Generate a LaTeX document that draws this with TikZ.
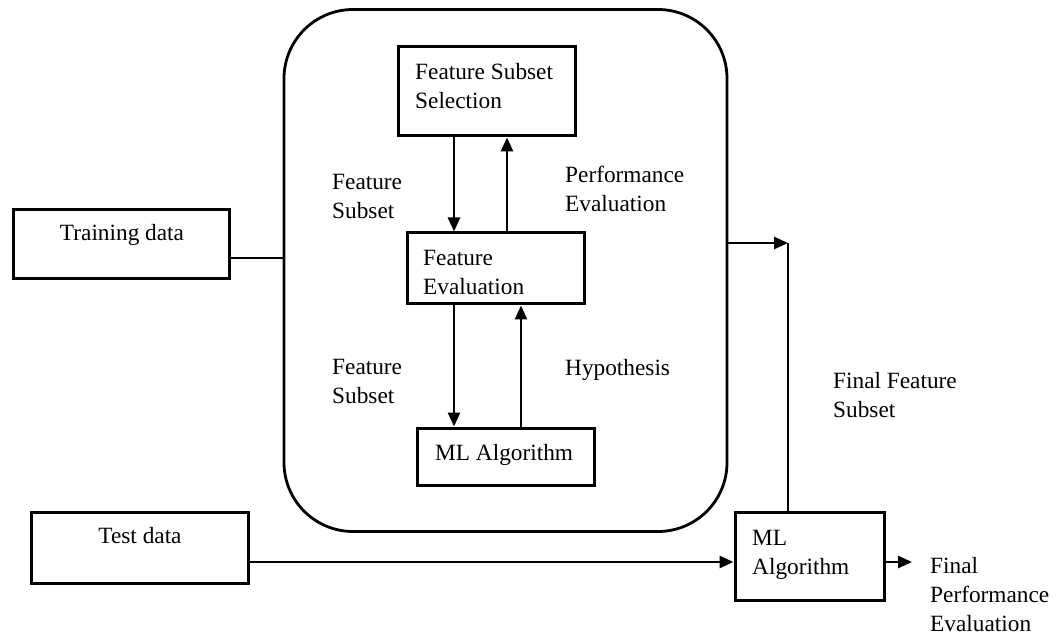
\documentclass[tikz,border=0pt]{standalone}
\usepackage{fontspec}
\setmainfont{Liberation Serif}
\usetikzlibrary{arrows.meta}
\begin{document}
\begin{tikzpicture}[x=1pt,y=-1pt,
  box/.style={draw,line width=3pt,rectangle,inner sep=0pt},
  txt/.style={inner sep=0pt,align=left,font=\fontsize{23.3}{29}\selectfont},
  line/.style={line width=2.8pt},
  arr/.style={line width=2.8pt,-{Triangle[length=14pt,width=12pt]}}]
\useasboundingbox (0,0) rectangle (1058,636);

% wrapper around the selection loop
\node[draw,line width=2.8pt,rounded corners=69pt,inner sep=0pt,
      minimum width=443pt,minimum height=522pt] (cont) at (505.5,270.5) {};

% boxes
\node[box,minimum width=177pt,minimum height=89pt] (fss) at (486.5,91.5) {};
\node[box,minimum width=177pt,minimum height=71pt] (fe) at (495.5,268.5) {};
\node[box,minimum width=177pt,minimum height=57pt] (mli) at (505.5,456.5) {};
\node[box,minimum width=216pt,minimum height=69pt] (train) at (121,244.5) {};
\node[box,minimum width=217pt,minimum height=71pt] (test) at (139.5,547.5) {};
\node[box,minimum width=149pt,minimum height=88pt] (mlo) at (809.5,556) {};

% box texts (multi-line texts placed by their top edge)
\node[txt,anchor=north west] (tfss) at (415,63.5) {Feature Subset\\Selection};
\node[txt,anchor=north west] (tfe) at (423,250.5) {Feature\\Evaluation};
\node[txt,anchor=base west] (tmli) at (435,460) {ML Algorithm};
\node[txt,anchor=base] (ttrain) at (122,241) {Training data};
\node[txt,anchor=base] (ttest) at (140,543) {Test data};
\node[txt,anchor=north west] (tmlo) at (752,530.5) {ML\\Algorithm};

% connector labels
\node[txt,anchor=north west] (lfs1) at (332,174.5) {Feature\\Subset};
\node[txt,anchor=north west] (lpe) at (565,165.5) {Performance\\Evaluation};
\node[txt,anchor=north west] (lfs2) at (332,359.5) {Feature\\Subset};
\node[txt,anchor=base west] (lhyp) at (565,376) {Hypothesis};
\node[txt,anchor=north west] (lffs) at (833,372.5) {Final Feature\\Subset};
\node[txt,anchor=north west] (lfpe) at (930,557.5) {Final\\Performance\\Evaluation};

% guide coordinates for the connector positions
\coordinate (xd) at (454,0);
\coordinate (xu1) at (507,0);
\coordinate (xu2) at (521,0);
\coordinate (ytr) at (0,258);
\coordinate (yout) at (0,243);
\coordinate (join) at (788,243);
\coordinate (ytest) at (0,562);
\coordinate (fin) at (912,562);

% loop inside the wrapper
\draw[arr] (fss.south -| xd) -- (fe.north -| xd);
\draw[arr] (fe.north -| xu1) -- (fss.south -| xu1);
\draw[arr] (fe.south -| xd) -- (mli.north -| xd);
\draw[arr] (mli.north -| xu2) -- (fe.south -| xu2);

% data flow
\draw[line] (train.east |- ytr) -- (cont.west |- ytr);
\draw[arr] (cont.east |- yout) -- (join);
\draw[line] (join) -- (mlo.north -| join);
\draw[arr] (test.east |- ytest) -- (mlo.west |- ytest);
\draw[arr] (mlo.east |- ytest) -- (fin);
\end{tikzpicture}
\end{document}
